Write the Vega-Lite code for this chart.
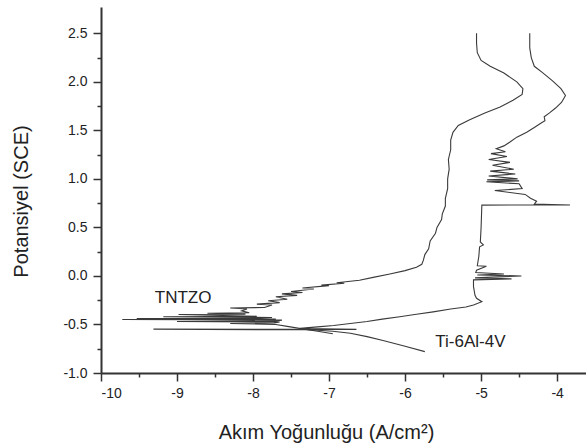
{
  "$schema": "https://vega.github.io/schema/vega-lite/v6.json",
  "width": 485,
  "height": 366,
  "autosize": "none",
  "padding": {"left": 101, "top": 7, "right": 0, "bottom": 73},
  "background": "white",
  "config": {
    "view": {"stroke": null},
    "font": "Liberation Sans",
    "axis": {
      "domainColor": "#333333",
      "domainWidth": 2,
      "tickColor": "#333333",
      "tickWidth": 1.5,
      "grid": false,
      "labelFont": "Liberation Sans",
      "labelFontSize": 14,
      "labelColor": "#222222",
      "titleFont": "Liberation Sans",
      "titleFontSize": 20,
      "titleFontWeight": "normal",
      "titleColor": "#222222"
    }
  },
  "datasets": {
    "curves": [
      {"s": "TNTZO", "i": 1, "x": -6.95, "y": -0.595},
      {"s": "TNTZO", "i": 2, "x": -7.15, "y": -0.57},
      {"s": "TNTZO", "i": 3, "x": -7.35, "y": -0.545},
      {"s": "TNTZO", "i": 4, "x": -7.55, "y": -0.52},
      {"s": "TNTZO", "i": 5, "x": -7.7, "y": -0.5},
      {"s": "TNTZO", "i": 6, "x": -8.3, "y": -0.49},
      {"s": "TNTZO", "i": 7, "x": -7.72, "y": -0.485},
      {"s": "TNTZO", "i": 8, "x": -7.65, "y": -0.475},
      {"s": "TNTZO", "i": 9, "x": -9.0, "y": -0.47},
      {"s": "TNTZO", "i": 10, "x": -7.7, "y": -0.465},
      {"s": "TNTZO", "i": 11, "x": -7.62, "y": -0.455},
      {"s": "TNTZO", "i": 12, "x": -9.72, "y": -0.448},
      {"s": "TNTZO", "i": 13, "x": -8.2, "y": -0.446},
      {"s": "TNTZO", "i": 14, "x": -7.7, "y": -0.443},
      {"s": "TNTZO", "i": 15, "x": -9.53, "y": -0.438},
      {"s": "TNTZO", "i": 16, "x": -7.9, "y": -0.432},
      {"s": "TNTZO", "i": 17, "x": -7.75, "y": -0.428},
      {"s": "TNTZO", "i": 18, "x": -9.18, "y": -0.42},
      {"s": "TNTZO", "i": 19, "x": -7.95, "y": -0.415},
      {"s": "TNTZO", "i": 20, "x": -8.98, "y": -0.398},
      {"s": "TNTZO", "i": 21, "x": -8.1, "y": -0.393},
      {"s": "TNTZO", "i": 22, "x": -8.6, "y": -0.385},
      {"s": "TNTZO", "i": 23, "x": -8.05, "y": -0.38},
      {"s": "TNTZO", "i": 24, "x": -8.15, "y": -0.36},
      {"s": "TNTZO", "i": 25, "x": -8.08, "y": -0.34},
      {"s": "TNTZO", "i": 26, "x": -8.3, "y": -0.33},
      {"s": "TNTZO", "i": 27, "x": -7.85, "y": -0.325},
      {"s": "TNTZO", "i": 28, "x": -7.75, "y": -0.3},
      {"s": "TNTZO", "i": 29, "x": -7.95, "y": -0.29},
      {"s": "TNTZO", "i": 30, "x": -7.65, "y": -0.275},
      {"s": "TNTZO", "i": 31, "x": -7.8, "y": -0.255},
      {"s": "TNTZO", "i": 32, "x": -7.55, "y": -0.24},
      {"s": "TNTZO", "i": 33, "x": -7.7, "y": -0.215},
      {"s": "TNTZO", "i": 34, "x": -7.42, "y": -0.2},
      {"s": "TNTZO", "i": 35, "x": -7.62, "y": -0.185},
      {"s": "TNTZO", "i": 36, "x": -7.35, "y": -0.17},
      {"s": "TNTZO", "i": 37, "x": -7.5, "y": -0.16},
      {"s": "TNTZO", "i": 38, "x": -7.2, "y": -0.135},
      {"s": "TNTZO", "i": 39, "x": -7.35, "y": -0.125},
      {"s": "TNTZO", "i": 40, "x": -7.0, "y": -0.1},
      {"s": "TNTZO", "i": 41, "x": -7.1, "y": -0.095},
      {"s": "TNTZO", "i": 42, "x": -6.8, "y": -0.075},
      {"s": "TNTZO", "i": 43, "x": -6.9, "y": -0.07},
      {"s": "TNTZO", "i": 44, "x": -6.6, "y": -0.045},
      {"s": "TNTZO", "i": 45, "x": -6.42, "y": -0.015},
      {"s": "TNTZO", "i": 46, "x": -6.2, "y": 0.02},
      {"s": "TNTZO", "i": 47, "x": -6.0, "y": 0.055},
      {"s": "TNTZO", "i": 48, "x": -5.85, "y": 0.09},
      {"s": "TNTZO", "i": 49, "x": -5.78, "y": 0.12},
      {"s": "TNTZO", "i": 50, "x": -5.76, "y": 0.16},
      {"s": "TNTZO", "i": 51, "x": -5.74, "y": 0.22},
      {"s": "TNTZO", "i": 52, "x": -5.69, "y": 0.28},
      {"s": "TNTZO", "i": 53, "x": -5.67, "y": 0.36},
      {"s": "TNTZO", "i": 54, "x": -5.6, "y": 0.44},
      {"s": "TNTZO", "i": 55, "x": -5.58, "y": 0.5},
      {"s": "TNTZO", "i": 56, "x": -5.52, "y": 0.58},
      {"s": "TNTZO", "i": 57, "x": -5.51, "y": 0.64},
      {"s": "TNTZO", "i": 58, "x": -5.47, "y": 0.72},
      {"s": "TNTZO", "i": 59, "x": -5.47, "y": 0.8},
      {"s": "TNTZO", "i": 60, "x": -5.44, "y": 0.9},
      {"s": "TNTZO", "i": 61, "x": -5.44, "y": 1.0},
      {"s": "TNTZO", "i": 62, "x": -5.42, "y": 1.1},
      {"s": "TNTZO", "i": 63, "x": -5.43, "y": 1.2},
      {"s": "TNTZO", "i": 64, "x": -5.4, "y": 1.3},
      {"s": "TNTZO", "i": 65, "x": -5.4, "y": 1.4},
      {"s": "TNTZO", "i": 66, "x": -5.37, "y": 1.48},
      {"s": "TNTZO", "i": 67, "x": -5.3, "y": 1.55},
      {"s": "TNTZO", "i": 68, "x": -5.15, "y": 1.61},
      {"s": "TNTZO", "i": 69, "x": -4.95, "y": 1.68},
      {"s": "TNTZO", "i": 70, "x": -4.75, "y": 1.74},
      {"s": "TNTZO", "i": 71, "x": -4.58, "y": 1.81},
      {"s": "TNTZO", "i": 72, "x": -4.46, "y": 1.87},
      {"s": "TNTZO", "i": 73, "x": -4.45, "y": 1.93},
      {"s": "TNTZO", "i": 74, "x": -4.53, "y": 2.0},
      {"s": "TNTZO", "i": 75, "x": -4.7, "y": 2.09},
      {"s": "TNTZO", "i": 76, "x": -4.88, "y": 2.16},
      {"s": "TNTZO", "i": 77, "x": -5.0, "y": 2.22},
      {"s": "TNTZO", "i": 78, "x": -5.05, "y": 2.3},
      {"s": "TNTZO", "i": 79, "x": -5.06, "y": 2.4},
      {"s": "TNTZO", "i": 80, "x": -5.06, "y": 2.5},
      {"s": "Ti-6Al-4V", "i": 1, "x": -5.74, "y": -0.78},
      {"s": "Ti-6Al-4V", "i": 2, "x": -6.0, "y": -0.725},
      {"s": "Ti-6Al-4V", "i": 3, "x": -6.29, "y": -0.665},
      {"s": "Ti-6Al-4V", "i": 4, "x": -6.5, "y": -0.625},
      {"s": "Ti-6Al-4V", "i": 5, "x": -6.72, "y": -0.59},
      {"s": "Ti-6Al-4V", "i": 6, "x": -6.95, "y": -0.57},
      {"s": "Ti-6Al-4V", "i": 7, "x": -7.15, "y": -0.56},
      {"s": "Ti-6Al-4V", "i": 8, "x": -7.3, "y": -0.555},
      {"s": "Ti-6Al-4V", "i": 9, "x": -9.31, "y": -0.548},
      {"s": "Ti-6Al-4V", "i": 10, "x": -6.64, "y": -0.55},
      {"s": "Ti-6Al-4V", "i": 11, "x": -7.1, "y": -0.545},
      {"s": "Ti-6Al-4V", "i": 12, "x": -7.38, "y": -0.54},
      {"s": "Ti-6Al-4V", "i": 13, "x": -7.15, "y": -0.525},
      {"s": "Ti-6Al-4V", "i": 14, "x": -6.94, "y": -0.51},
      {"s": "Ti-6Al-4V", "i": 15, "x": -6.72, "y": -0.49},
      {"s": "Ti-6Al-4V", "i": 16, "x": -6.5, "y": -0.47},
      {"s": "Ti-6Al-4V", "i": 17, "x": -6.3, "y": -0.445},
      {"s": "Ti-6Al-4V", "i": 18, "x": -6.07, "y": -0.42},
      {"s": "Ti-6Al-4V", "i": 19, "x": -5.85, "y": -0.395},
      {"s": "Ti-6Al-4V", "i": 20, "x": -5.63, "y": -0.37},
      {"s": "Ti-6Al-4V", "i": 21, "x": -5.4, "y": -0.34},
      {"s": "Ti-6Al-4V", "i": 22, "x": -5.2, "y": -0.32},
      {"s": "Ti-6Al-4V", "i": 23, "x": -5.1, "y": -0.3},
      {"s": "Ti-6Al-4V", "i": 24, "x": -4.99, "y": -0.265},
      {"s": "Ti-6Al-4V", "i": 25, "x": -5.06, "y": -0.23},
      {"s": "Ti-6Al-4V", "i": 26, "x": -5.08, "y": -0.2},
      {"s": "Ti-6Al-4V", "i": 27, "x": -5.1, "y": -0.11},
      {"s": "Ti-6Al-4V", "i": 28, "x": -5.1, "y": -0.04},
      {"s": "Ti-6Al-4V", "i": 29, "x": -4.6, "y": -0.03},
      {"s": "Ti-6Al-4V", "i": 30, "x": -5.08, "y": -0.02},
      {"s": "Ti-6Al-4V", "i": 31, "x": -4.47, "y": 0.0},
      {"s": "Ti-6Al-4V", "i": 32, "x": -5.05, "y": 0.01},
      {"s": "Ti-6Al-4V", "i": 33, "x": -4.7, "y": 0.02},
      {"s": "Ti-6Al-4V", "i": 34, "x": -5.07, "y": 0.035},
      {"s": "Ti-6Al-4V", "i": 35, "x": -5.06, "y": 0.06},
      {"s": "Ti-6Al-4V", "i": 36, "x": -4.93, "y": 0.1},
      {"s": "Ti-6Al-4V", "i": 37, "x": -5.05, "y": 0.105},
      {"s": "Ti-6Al-4V", "i": 38, "x": -5.03, "y": 0.2},
      {"s": "Ti-6Al-4V", "i": 39, "x": -5.02, "y": 0.3},
      {"s": "Ti-6Al-4V", "i": 40, "x": -4.97, "y": 0.32},
      {"s": "Ti-6Al-4V", "i": 41, "x": -5.01, "y": 0.35},
      {"s": "Ti-6Al-4V", "i": 42, "x": -5.0, "y": 0.5},
      {"s": "Ti-6Al-4V", "i": 43, "x": -4.99, "y": 0.73},
      {"s": "Ti-6Al-4V", "i": 44, "x": -3.83, "y": 0.731},
      {"s": "Ti-6Al-4V", "i": 45, "x": -4.3, "y": 0.74},
      {"s": "Ti-6Al-4V", "i": 46, "x": -4.27, "y": 0.77},
      {"s": "Ti-6Al-4V", "i": 47, "x": -4.35, "y": 0.8},
      {"s": "Ti-6Al-4V", "i": 48, "x": -4.42, "y": 0.84},
      {"s": "Ti-6Al-4V", "i": 49, "x": -4.82, "y": 0.88},
      {"s": "Ti-6Al-4V", "i": 50, "x": -4.46, "y": 0.9},
      {"s": "Ti-6Al-4V", "i": 51, "x": -4.5, "y": 0.95},
      {"s": "Ti-6Al-4V", "i": 52, "x": -4.93, "y": 0.97},
      {"s": "Ti-6Al-4V", "i": 53, "x": -4.5, "y": 0.98},
      {"s": "Ti-6Al-4V", "i": 54, "x": -4.92, "y": 0.99},
      {"s": "Ti-6Al-4V", "i": 55, "x": -4.52, "y": 1.0},
      {"s": "Ti-6Al-4V", "i": 56, "x": -4.9, "y": 1.03},
      {"s": "Ti-6Al-4V", "i": 57, "x": -4.55, "y": 1.05},
      {"s": "Ti-6Al-4V", "i": 58, "x": -4.88, "y": 1.08},
      {"s": "Ti-6Al-4V", "i": 59, "x": -4.57, "y": 1.1},
      {"s": "Ti-6Al-4V", "i": 60, "x": -4.85, "y": 1.14},
      {"s": "Ti-6Al-4V", "i": 61, "x": -4.62, "y": 1.17},
      {"s": "Ti-6Al-4V", "i": 62, "x": -4.9, "y": 1.2},
      {"s": "Ti-6Al-4V", "i": 63, "x": -4.66, "y": 1.23},
      {"s": "Ti-6Al-4V", "i": 64, "x": -4.87, "y": 1.26},
      {"s": "Ti-6Al-4V", "i": 65, "x": -4.68, "y": 1.28},
      {"s": "Ti-6Al-4V", "i": 66, "x": -4.8, "y": 1.31},
      {"s": "Ti-6Al-4V", "i": 67, "x": -4.7, "y": 1.34},
      {"s": "Ti-6Al-4V", "i": 68, "x": -4.62, "y": 1.38},
      {"s": "Ti-6Al-4V", "i": 69, "x": -4.53, "y": 1.43},
      {"s": "Ti-6Al-4V", "i": 70, "x": -4.4, "y": 1.48},
      {"s": "Ti-6Al-4V", "i": 71, "x": -4.3, "y": 1.53},
      {"s": "Ti-6Al-4V", "i": 72, "x": -4.22, "y": 1.57},
      {"s": "Ti-6Al-4V", "i": 73, "x": -4.16, "y": 1.6},
      {"s": "Ti-6Al-4V", "i": 74, "x": -4.17, "y": 1.64},
      {"s": "Ti-6Al-4V", "i": 75, "x": -4.1, "y": 1.68},
      {"s": "Ti-6Al-4V", "i": 76, "x": -4.02, "y": 1.73},
      {"s": "Ti-6Al-4V", "i": 77, "x": -3.94, "y": 1.79},
      {"s": "Ti-6Al-4V", "i": 78, "x": -3.89, "y": 1.86},
      {"s": "Ti-6Al-4V", "i": 79, "x": -3.95, "y": 1.93},
      {"s": "Ti-6Al-4V", "i": 80, "x": -4.06, "y": 2.01},
      {"s": "Ti-6Al-4V", "i": 81, "x": -4.2, "y": 2.1},
      {"s": "Ti-6Al-4V", "i": 82, "x": -4.3, "y": 2.16},
      {"s": "Ti-6Al-4V", "i": 83, "x": -4.34, "y": 2.25},
      {"s": "Ti-6Al-4V", "i": 84, "x": -4.36, "y": 2.35},
      {"s": "Ti-6Al-4V", "i": 85, "x": -4.36, "y": 2.5}
    ],
    "labels": [
      {"text": "TNTZO", "x": -8.92, "y": -0.28},
      {"text": "Ti-6Al-4V", "x": -5.14, "y": -0.73}
    ]
  },
  "resolve": {"axis": {"x": "independent", "y": "independent"}},
  "layer": [
    {
      "data": {"name": "curves"},
      "mark": {"type": "line", "color": "#3a3a3a", "strokeWidth": 1.1, "clip": true},
      "encoding": {
        "x": {
          "field": "x", "type": "quantitative",
          "scale": {"domain": [-10, -3.62], "nice": false, "zero": false},
          "axis": {
            "orient": "bottom",
            "title": "Akım Yoğunluğu  (A/cm²)",
            "values": [-10, -9, -8, -7, -6, -5, -4],
            "labelExpr": "replace(format(datum.value, 'd'), '\u2212', '-')",
            "tickSize": 8,
            "labelPadding": 5,
            "titleX": 225,
            "titleY": 65,
            "titleAnchor": null,
            "titleAlign": "center",
            "titleBaseline": "alphabetic"
          }
        },
        "y": {
          "field": "y", "type": "quantitative",
          "scale": {"domain": [-1, 2.771], "nice": false, "zero": false},
          "axis": {
            "orient": "left",
            "title": "Potansiyel (SCE)",
            "values": [-1, -0.5, 0, 0.5, 1, 1.5, 2, 2.5],
            "labelExpr": "replace(format(datum.value, '.1f'), '\u2212', '-')",
            "tickSize": 8,
            "labelPadding": 6,
            "titleX": -74,
            "titleY": 194,
            "titleAngle": -90,
            "titleAnchor": null,
            "titleAlign": "center",
            "titleBaseline": "alphabetic"
          }
        },
        "detail": {"field": "s"},
        "order": {"field": "i", "type": "quantitative"}
      }
    },
    {
      "mark": {"type": "rule", "color": "#555555", "strokeWidth": 2.5},
      "encoding": {"y": {"datum": 2.771, "axis": null}}
    },
    {
      "data": {"name": "labels"},
      "mark": {"type": "text", "font": "Liberation Sans", "fontSize": 17, "color": "#222222", "align": "center", "baseline": "alphabetic"},
      "encoding": {
        "x": {
          "field": "x", "type": "quantitative",
          "scale": {"domain": [-10, -3.62], "nice": false, "zero": false},
          "axis": {
            "orient": "bottom",
            "title": null,
            "values": [-9.5, -8.5, -7.5, -6.5, -5.5, -4.5],
            "labels": false,
            "domain": false,
            "tickSize": 4
          }
        },
        "y": {
          "field": "y", "type": "quantitative",
          "scale": {"domain": [-1, 2.771], "nice": false, "zero": false},
          "axis": {
            "orient": "left",
            "title": null,
            "values": [-0.75, -0.25, 0.25, 0.75, 1.25, 1.75, 2.25],
            "labels": false,
            "domain": false,
            "tickSize": 4
          }
        },
        "text": {"field": "text"}
      }
    }
  ]
}
